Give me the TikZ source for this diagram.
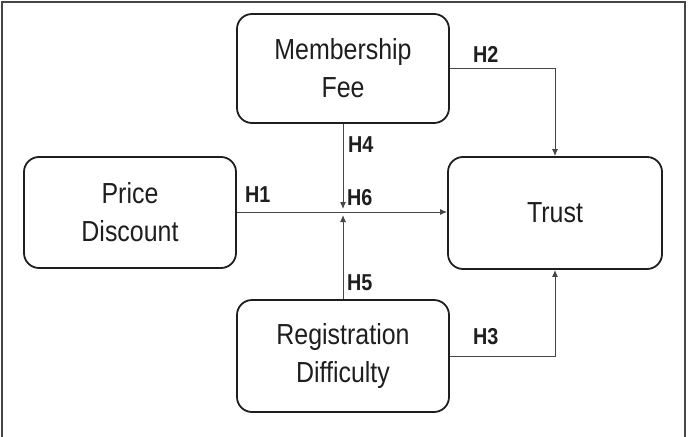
\documentclass[tikz,border=0pt]{standalone}
\usepackage{fontspec}
\setmainfont[FakeStretch=0.86]{Liberation Sans}
\usetikzlibrary{arrows.meta}
\definecolor{ink}{RGB}{30,30,30}
\definecolor{linegray}{RGB}{70,70,70}
\tikzset{
  box/.style={draw=ink, line width=1.8pt, rounded corners=15pt, align=center,
    text=ink, font=\fontsize{29}{38}\selectfont, inner sep=0pt},
  conn/.style={draw=linegray, line width=1pt},
  tip/.style={-{Latex[length=7pt,width=6pt]}},
  hlab/.style={anchor=west, text=ink, font=\fontsize{23}{26}\bfseries\selectfont, inner sep=0pt},
  frame/.style={draw=linegray, line width=1.6pt}
}
\begin{document}
\begin{tikzpicture}[x=1pt,y=-1pt]
\useasboundingbox (0,0) rectangle (695,436);
\draw[frame] (2,440) -- (2,2) -- (685,2) -- (685,440);
\node[box, minimum width=212pt, minimum height=109pt] (mf) at (343,68.5) {Membership\\Fee};
\node[box, minimum width=212pt, minimum height=111pt] (pd) at (130,212.5) {Price\\Discount};
\node[box, minimum width=214pt, minimum height=112pt] (tr) at (555,213) {Trust};
\node[box, minimum width=212pt, minimum height=112pt] (rd) at (343,356) {Registration\\Difficulty};
\coordinate (j) at (mf.south |- 0,212);
\draw[conn,tip] (pd.east |- j) -- (tr.west |- j);
\draw[conn,tip,shorten >=3pt] (mf.south) -- (j);
\draw[conn,tip,shorten >=3pt] (rd.north) -- (j);
\draw[conn,tip] (mf.east) -| (tr.north);
\draw[conn,tip] (rd.east) -| (tr.south);
\node[hlab] (h1) at (245,195) {H1};
\node[hlab] (h4) at (348,145) {H4};
\node[hlab] (h6) at (347,198) {H6};
\node[hlab] (h5) at (347,283) {H5};
\node[hlab] (h2) at (473,54) {H2};
\node[hlab] (h3) at (473,337) {H3};
\end{tikzpicture}
\end{document}
